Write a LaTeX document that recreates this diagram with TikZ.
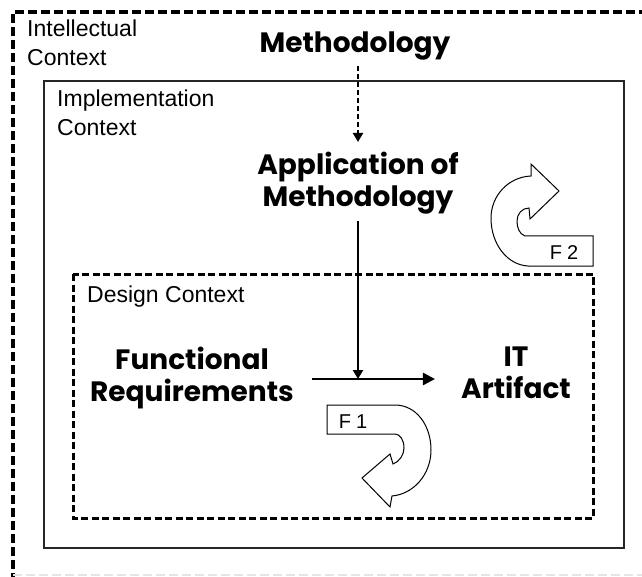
\documentclass[tikz,border=0pt]{standalone}
\usepackage{fontspec}
\setmainfont{Liberation Sans}
\newfontfamily\headfont{Poppins}
\usetikzlibrary{arrows.meta,calc}

\begin{document}
\begin{tikzpicture}[x=1pt,y=-1pt,
  ctxlabel/.style={font=\fontsize{23}{29}\selectfont, align=left, anchor=north west, inner sep=0pt},
  headlabel/.style={font=\headfont\bfseries\fontsize{28}{31.5}\selectfont, align=center, inner sep=0pt},
  flabel/.style={font=\fontsize{20}{22}\selectfont, inner sep=0pt},
  outerframe/.style={line width=3.5pt, dash pattern=on 9pt off 4pt},
  implframe/.style={line width=1.6pt, draw=black!85},
  designframe/.style={line width=3pt, dash pattern=on 7pt off 3.5pt},
  dasharrow/.style={line width=2.2pt, dash pattern=on 5pt off 3pt, -{Triangle[length=9pt,width=10pt]}},
  vflow/.style={line width=2.2pt, -{Triangle[length=9pt,width=10pt]}},
  hflow/.style={line width=2.6pt, -{Triangle[length=12pt,width=12pt]}},
  loopshape/.style={line width=1pt, draw=black, fill=white}
]
\useasboundingbox (0,0) rectangle (642,577);
\fill[white] (0,0) rectangle (642,577);

% Intellectual context frame (left and top sides, faint bottom)
\draw[outerframe] (648,12) -- (13,12) -- (13,580);
\draw[outerframe, draw=black!10, line width=2pt] (13,575) -- (648,575);

% Implementation context frame
\draw[implframe] (44,81) rectangle (624,548);

% Design context frame
\draw[designframe] (73,274) rectangle (593,518);

% Frame labels
\node[ctxlabel] (intel) at (27,20) {Intellectual\\Context};
\node[ctxlabel] (impl) at (57,90) {Implementation\\Context};
\node[ctxlabel] (design) at (87,286) {Design Context};

% Main concepts
\node[headlabel, anchor=base] (meth) at (355,53) {Methodology};
\node[headlabel, anchor=north] (app) at (358,152) {Application of\\Methodology};
\node[headlabel, anchor=north] (fr) at (192,347) {Functional\\Requirements};
\node[headlabel, anchor=north] (ita) at (516,347) {IT\\Artifact};

% Flows
\coordinate (join) at (358,379);
\draw[dasharrow, shorten <=5pt, shorten >=10pt] (meth.south -| app.north) -- (app.north);
\draw[vflow, shorten <=7pt] (app.south -| join) -- (join);
\draw[hflow] ($(fr.east |- join)+(18,0)$) -- ($(ita.west |- join)+(-26,0)$);

% Feedback loop F2
\draw[loopshape] (528,266) -- (593,266) -- (593,236) -- (525,236)
  .. controls (519,234) and (517,227) .. (517,221)
  .. controls (517,214) and (522,208) .. (529,208)
  -- (530,219) -- (559,191) -- (531,164) -- (531,176)
  .. controls (508,177) and (491,196) .. (491,218)
  .. controls (491,245) and (508,265) .. (528,266) -- cycle;
\node[flabel] (f2lab) at (564,253) {F\kern5pt2};

% Feedback loop F1
\draw[loopshape] (327,405) -- (395,405)
  .. controls (416,405) and (431,425) .. (431,450)
  .. controls (431,474) and (414,494) .. (392,496)
  -- (390,507) -- (362,478) -- (390,454) -- (393,464)
  .. controls (399,462) and (404,455) .. (404,448)
  .. controls (404,440) and (400,434) .. (395,434)
  -- (327,434) -- cycle;
\node[flabel] (f1lab) at (353,422) {F\kern5pt1};
\end{tikzpicture}
\end{document}
